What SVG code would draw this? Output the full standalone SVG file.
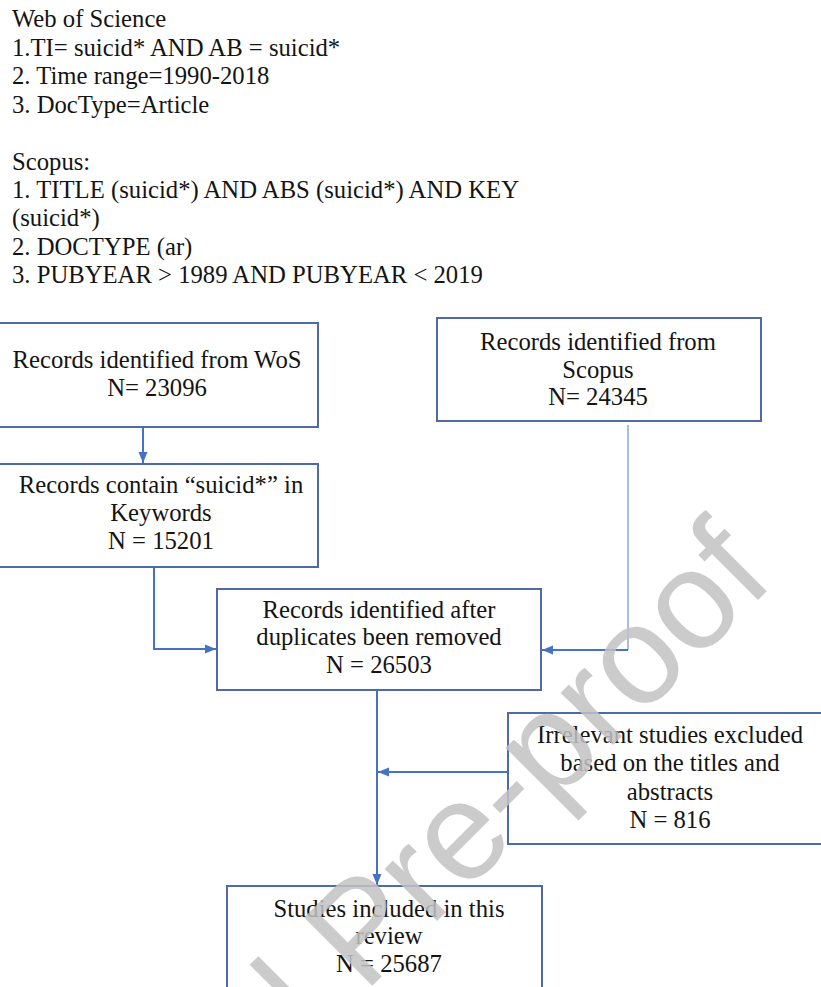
<svg xmlns="http://www.w3.org/2000/svg" width="821" height="987" viewBox="0 0 821 987">
<style>
.t{font-size:24.7px;fill:#141414}
.s{font-family:'Liberation Serif',serif}
.c{text-anchor:middle}
.box{fill:#fff;stroke:#4f6aa5;stroke-width:2}
.ln{fill:none;stroke:#4472c4;stroke-width:2}
.lt{fill:none;stroke:#a7bde6;stroke-width:2}
.wm{font-family:'Liberation Sans',Arial,sans-serif;font-size:140px;fill:#c2c2c2;fill-opacity:0.85}
</style>
<defs>
<marker id="ah" markerUnits="userSpaceOnUse" markerWidth="12" markerHeight="12" viewBox="0 0 12 12" refX="11" refY="6" orient="auto">
<path d="M0,1.5 L11,6 L0,10.5 z" fill="#4472c4"/>
</marker>
</defs>
<rect width="821" height="987" fill="#fff"/>
<g id="search-query">
<text class="t s" x="12" y="27">Web of Science</text>
<text class="t s" x="12" y="56">1.TI= suicid* AND AB = suicid*</text>
<text class="t s" x="12" y="84">2. Time range=1990-2018</text>
<text class="t s" x="12" y="113">3. DocType=Article</text>
<text class="t s" x="12" y="170">Scopus:</text>
<text class="t s" x="12" y="198">1. TITLE (suicid*) AND ABS (suicid*) AND KEY</text>
<text class="t s" x="12" y="226">(suicid*)</text>
<text class="t s" x="12" y="255">2. DOCTYPE (ar)</text>
<text class="t s" x="12" y="283">3. PUBYEAR &gt; 1989 AND PUBYEAR &lt; 2019</text>
</g>
<g id="connectors">
<line class="ln" x1="143" y1="428" x2="143" y2="463" marker-end="url(#ah)"/>
<path class="ln" d="M154 568 V649 H216" marker-end="url(#ah)"/>
<path class="lt" d="M628 425 V650"/>
<path class="ln" d="M628 650 H542" marker-end="url(#ah)"/>
<line class="ln" x1="377" y1="691" x2="377" y2="885" marker-end="url(#ah)"/>
<line class="ln" x1="508" y1="772" x2="378" y2="772" marker-end="url(#ah)"/>
</g>
<g id="wos">
<rect class="box" x="-2" y="323" width="320" height="104"/>
<text class="t s c" x="157" y="368">Records identified from WoS</text>
<text class="t s c" x="157" y="396">N= 23096</text>
</g>
<g id="scopus">
<rect class="box" x="437" y="318" width="324" height="103"/>
<text class="t s c" x="598" y="350">Records identified from</text>
<text class="t s c" x="598" y="378">Scopus</text>
<text class="t s c" x="598" y="405">N= 24345</text>
</g>
<g id="keywords">
<rect class="box" x="-2" y="464" width="320" height="103"/>
<text class="t s c" x="161" y="493">Records contain “suicid*” in</text>
<text class="t s c" x="161" y="521">Keywords</text>
<text class="t s c" x="161" y="549">N = 15201</text>
</g>
<g id="dedup">
<rect class="box" x="217" y="589" width="324" height="101"/>
<text class="t s c" x="379" y="618">Records identified after</text>
<text class="t s c" x="379" y="645">duplicates been removed</text>
<text class="t s c" x="379" y="673">N = 26503</text>
</g>
<g id="excluded">
<rect class="box" x="508" y="713" width="330" height="131"/>
<text class="t s c" x="670" y="743">Irrelevant studies excluded</text>
<text class="t s c" x="670" y="771">based on the titles and</text>
<text class="t s c" x="670" y="800">abstracts</text>
<text class="t s c" x="670" y="828">N = 816</text>
</g>
<g id="included">
<rect class="box" x="227" y="886" width="315" height="120"/>
<text class="t s c" x="389" y="917">Studies included in this</text>
<text class="t s c" x="389" y="944">review</text>
<text class="t s c" x="389" y="972">N = 25687</text>
</g>
<g id="watermark">
<text class="wm" x="0" y="0" transform="translate(12 1346) rotate(-45)">Journal Pre-proof</text>
</g>
</svg>
